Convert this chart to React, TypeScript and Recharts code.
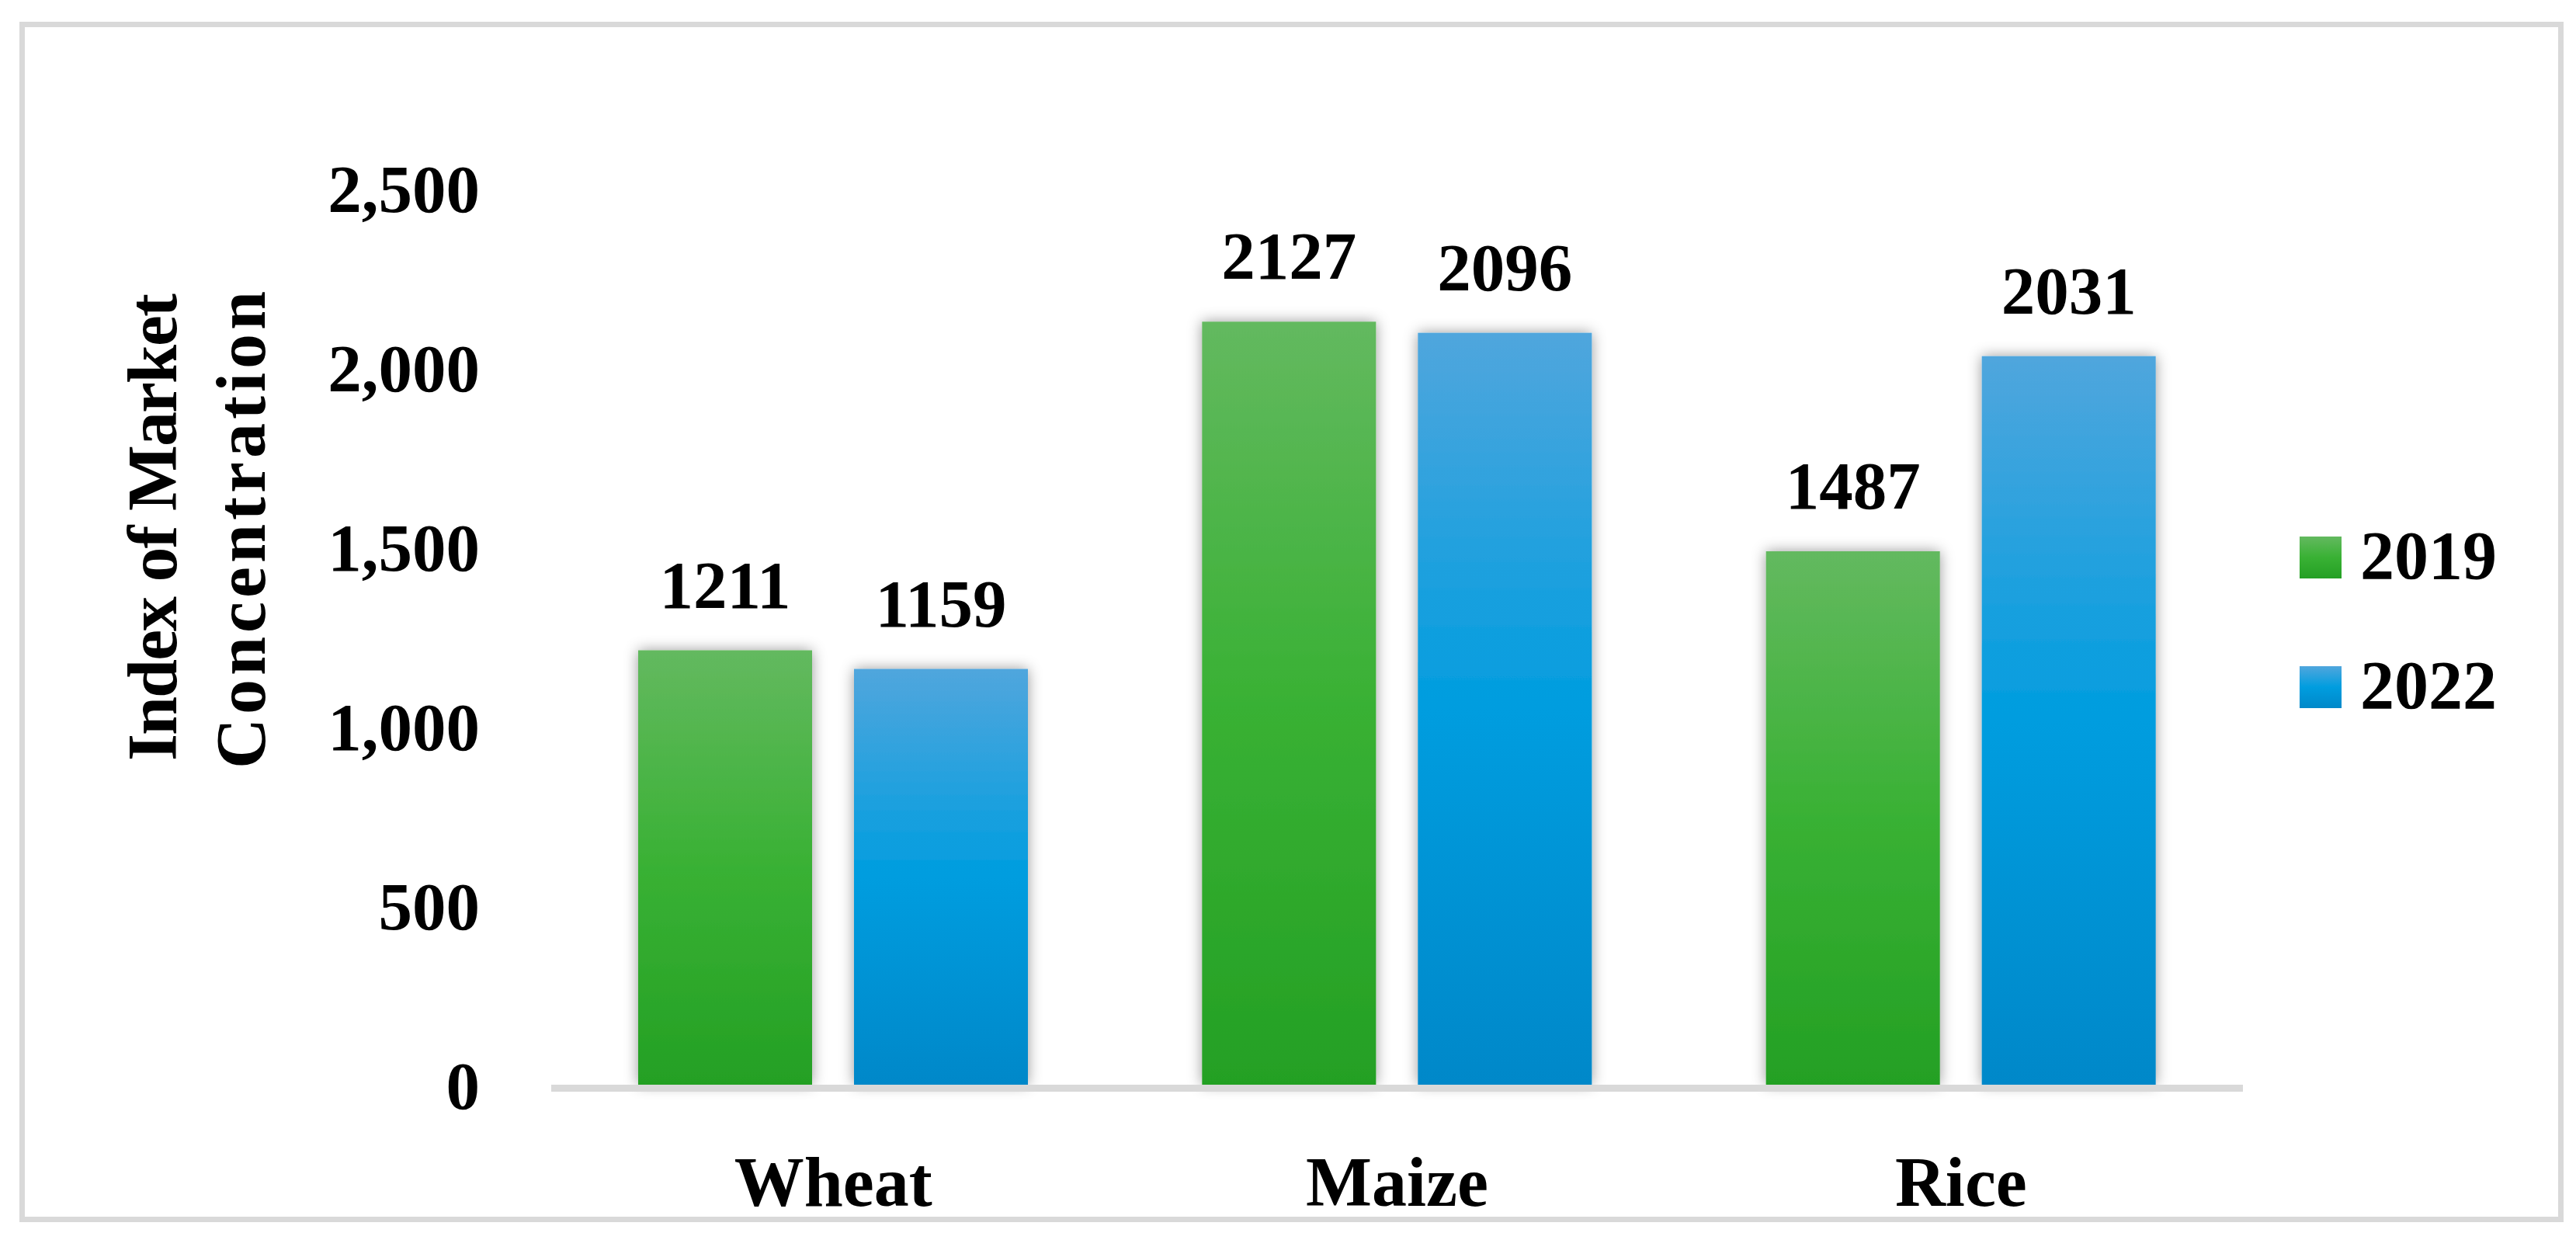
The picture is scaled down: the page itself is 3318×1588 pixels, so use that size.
import React from 'react';
import { BarChart, Bar, XAxis, YAxis, LabelList, Legend, Label } from 'recharts';

const crops = ['Wheat', 'Maize', 'Rice'];
const values2019 = [1211, 2127, 1487];
const values2022 = [1159, 2096, 2031];
const yTicks = [0, 500, 1000, 1500, 2000, 2500];

const data = crops.map((crop, i) => ({ crop, v2019: values2019[i], v2022: values2022[i] }));

const FONT = "'Palatino Linotype', 'Book Antiqua', Palatino, 'Liberation Serif', serif";
const fmt = (n) => Number(n).toLocaleString('en-US');

const SERIES = [
  { key: 'v2019', name: '2019', grad: 'gGreen', css: 'linear-gradient(#63b95f, #39b134 50%, #24a024)' },
  { key: 'v2022', name: '2022', grad: 'gBlue', css: 'linear-gradient(#50a6dd, #009ddf 50%, #0088c9)' },
];

const ShadowBar = ({ x, y, width, height, fill }) => (
  <rect x={x} y={y} width={width} height={height} fill={fill} filter="url(#barShadow)" />
);

const LegendBox = () => (
  <div style={{ fontFamily: FONT, fontWeight: 'bold', fontSize: 88, lineHeight: '167px', color: '#000' }}>
    {SERIES.map((s) => (
      <div key={s.key} style={{ whiteSpace: 'nowrap' }}>
        <span style={{ display: 'inline-block', width: 54, height: 54, background: s.css, marginRight: 24 }} />
        {s.name}
      </div>
    ))}
  </div>
);

// two-line rotated axis title, spaced to match the wider Palatino in the original
const AxisTitle = () => (
  <text transform="rotate(-90, 227, 680)" x={227} y={680} textAnchor="middle"
    fontFamily={FONT} fontWeight="bold" fontSize={90} fill="#000">
    <tspan x={227} dy={0} letterSpacing={-2}>Index of Market</tspan>
    <tspan x={227} dy={114} letterSpacing={5}>Concentration</tspan>
  </text>
);

export default function App() {
  return (
    <div style={{ position: 'absolute', left: 0, top: 0, width: 3318, height: 1588, background: '#fff' }}>
      <div style={{
        position: 'absolute', left: 25, top: 28, width: 3277, height: 1546,
        boxSizing: 'border-box', border: '7px solid #d9d9d9',
      }} />
      <div style={{ position: 'absolute', left: 0, top: 0 }}>
        <BarChart width={3318} height={1588} data={data}
          margin={{ top: 242, right: 429, bottom: 0, left: 0 }}
          barCategoryGap={112} barGap={54}>
          <defs>
            <linearGradient id="gGreen" x1="0" y1="0" x2="0" y2="1">
              <stop offset="0%" stopColor="#63b95f" />
              <stop offset="50%" stopColor="#39b134" />
              <stop offset="100%" stopColor="#24a024" />
            </linearGradient>
            <linearGradient id="gBlue" x1="0" y1="0" x2="0" y2="1">
              <stop offset="0%" stopColor="#50a6dd" />
              <stop offset="50%" stopColor="#009ddf" />
              <stop offset="100%" stopColor="#0088c9" />
            </linearGradient>
            <filter id="barShadow" x="-50%" y="-20%" width="200%" height="140%">
              <feDropShadow dx="0" dy="0" stdDeviation="9" floodColor="#000" floodOpacity="0.4" />
            </filter>
          </defs>
          <XAxis dataKey="crop" height={191} tickLine={false} tickSize={0} tickMargin={92}
            axisLine={{ stroke: '#d9d9d9', strokeWidth: 9, transform: 'translate(0 4.5)' }}
            tick={{ fontFamily: FONT, fontWeight: 'bold', fontSize: 90, fill: '#000' }} />
          <YAxis width={710} domain={[0, 2500]} ticks={yTicks} tickFormatter={fmt}
            axisLine={false} tickLine={false} tickSize={0} tickMargin={92}
            tick={{ fontFamily: FONT, fontWeight: 'bold', fontSize: 87, fill: '#000' }}>
            <Label content={<AxisTitle />} />
          </YAxis>
          <Legend layout="vertical" align="center" verticalAlign="middle"
            content={<LegendBox />}
            wrapperStyle={{ left: 2962, top: 632, width: 320 }} />
          {SERIES.map((s) => (
            <Bar key={s.key} dataKey={s.key} name={s.name} fill={`url(#${s.grad})`}
              shape={<ShadowBar />} isAnimationActive={false}>
              <LabelList dataKey={s.key} position="top" offset={55}
                style={{ fontFamily: FONT, fontWeight: 'bold', fontSize: 87, fill: '#000' }} />
            </Bar>
          ))}
        </BarChart>
      </div>
    </div>
  );
}
